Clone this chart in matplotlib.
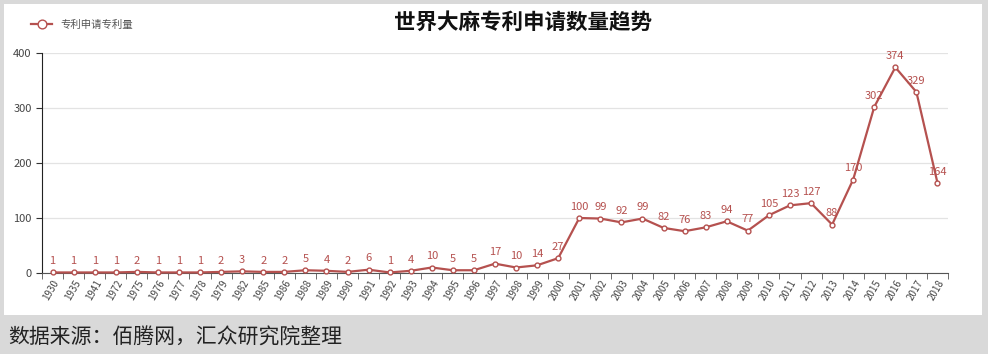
import matplotlib
matplotlib.use("Agg")
import matplotlib.pyplot as plt
from matplotlib.patches import Rectangle
import numpy as np

plt.rcParams["font.family"] = ["Noto Sans CJK SC", "DejaVu Sans"]

years = ["1930", "1935", "1941", "1972", "1975", "1976", "1977", "1978", "1979",
         "1982", "1985", "1986", "1988", "1989", "1990", "1991", "1992", "1993",
         "1994", "1995", "1996", "1997", "1998", "1999", "2000", "2001", "2002",
         "2003", "2004", "2005", "2006", "2007", "2008", "2009", "2010", "2011",
         "2012", "2013", "2014", "2015", "2016", "2017", "2018"]
counts = [1, 1, 1, 1, 2, 1, 1, 1, 2, 3, 2, 2, 5, 4,
          2, 6, 1, 4, 10, 5, 5, 17, 10, 14, 27,
          100, 99, 92, 99, 82, 76, 83, 94, 77, 105, 123, 127, 88, 170, 302, 374, 329, 164]
yticks = [0, 100, 200, 300, 400]

title = "世界大麻专利申请数量趋势"
series_name = "专利申请专利量"
source = "数据来源：佰腾网，汇众研究院整理"

LINE = "#b5514f"
W, H = 988, 354

fig = plt.figure(figsize=(W / 100, H / 100), dpi=100, facecolor="#d9d9d9")
# white card behind the chart
card = Rectangle((4 / W, 1 - 315 / H), 978 / W, 311 / H,
                 transform=fig.transFigure, facecolor="white",
                 edgecolor="none", zorder=-10)
fig.patches.append(card)

ax = fig.add_axes([42 / W, 1 - 273 / H, 906 / W, 220 / H])
ax.set_facecolor("none")
x = np.arange(len(years))
ax.plot(x, counts, color=LINE, lw=1.6, marker="o", ms=3.5,
        mfc="white", mec=LINE, mew=1, zorder=3, label=series_name, clip_on=False)
for xi, v in zip(x, counts):
    ax.annotate(str(v), (xi, v), xytext=(0, 4.5), textcoords="offset points",
                ha="center", va="bottom", fontsize=8, color=LINE)

ax.set_xlim(-0.5, len(years) - 0.5)
ax.set_ylim(0, 400)
ax.set_yticks(yticks)
ax.tick_params(axis="y", labelsize=8, length=4, color="#333333", labelcolor="#444444")
ax.grid(axis="y", color="#e3e3e3", lw=0.9)
ax.set_axisbelow(True)

ax.set_xticks(x)
ax.set_xticklabels(years, rotation=60, ha="right", rotation_mode="anchor",
                   fontsize=7, color="#444444")
ax.tick_params(axis="x", which="major", length=0, pad=4)
ax.set_xticks(np.arange(len(years) + 1) - 0.5, minor=True)
ax.tick_params(axis="x", which="minor", length=4, color="#555555")

for s in ["top", "right"]:
    ax.spines[s].set_visible(False)
ax.spines["left"].set_color("#222222")
ax.spines["bottom"].set_color("#555555")

fig.text(523 / W, 1 - 22 / H, title, ha="center", va="center",
         fontsize=15.5, fontweight="bold", color="#111111")

leg = fig.legend(loc="center left", bbox_to_anchor=(22 / W, 1 - 25 / H),
                 frameon=False, fontsize=7.5, handlelength=2.0, markerscale=1.8)
for t in leg.get_texts():
    t.set_color("#555555")

fig.text(8 / W, 1 - 338 / H, source, ha="left", va="center",
         fontsize=15, color="#222222", style="italic")

fig.savefig("out.png", dpi=100, facecolor=fig.get_facecolor())
